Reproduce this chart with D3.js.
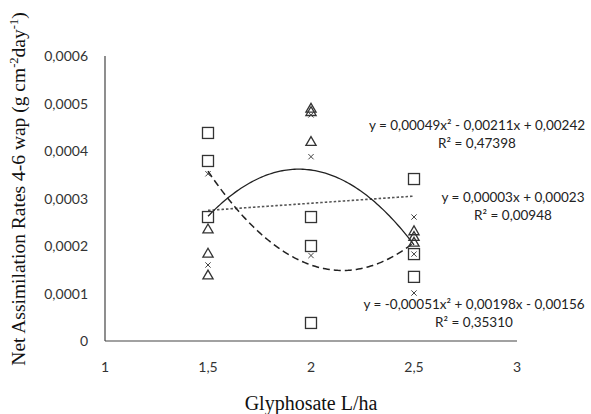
<!DOCTYPE html>
<html lang="en">
<head>
    <meta charset="UTF-8">
    <title>Net Assimilation Rates vs Glyphosate</title>
    <script src="https://d3js.org/d3.v7.min.js"></script>
    <style>
        body { margin: 0; background: white; }
        svg { display: block; }
        .tick-label { font-family: Lato, "Open Sans", sans-serif; font-size: 14px; fill: #333; }
        .eq { font-family: Lato, "Open Sans", sans-serif; font-size: 13.5px; fill: #222; }
        .title { font-family: "Liberation Serif", "DejaVu Serif", serif; fill: #111; }
    </style>
</head>
<body>
<svg id="vis"></svg>
<script>
    const width = 591, height = 414;

    // x positions of the doses (L/ha)
    const doses = [1.5, 2, 2.5];

    // squares series, one list per dose
    const squareValues = [
        [0.000438, 0.000379, 0.000261],
        [0.000261, 0.000200, 0.000038],
        [0.000341, 0.000183, 0.000135]
    ];
    // triangles series
    const triangleValues = [
        [0.000236, 0.000185, 0.000139],
        [0.000490, 0.000483, 0.000420],
        [0.000232, 0.000220, 0.000208]
    ];
    // crosses series
    const crossValues = [
        [0.000352, 0.000160],
        [0.000476, 0.000388, 0.000180],
        [0.000261, 0.000183, 0.000101]
    ];

    // trendline coefficients [a, b, c] for a*x^2 + b*x + c
    const squareFit = [0.00049, -0.00211, 0.00242];
    const crossFit = [-0.00051, 0.00198, -0.00156];
    const triangleFit = [0, 0.00003, 0.00023];

    const squareEq = ["y = 0,00049x\u00B2 - 0,00211x + 0,00242", "R\u00B2 = 0,47398"];
    const triangleEq = ["y = 0,00003x + 0,00023", "R\u00B2 = 0,00948"];
    const crossEq = ["y = -0,00051x\u00B2 + 0,00198x - 0,00156", "R\u00B2 = 0,35310"];

    const xTicks = [1, 1.5, 2, 2.5, 3];
    const yTicks = [0, 0.0001, 0.0002, 0.0003, 0.0004, 0.0005, 0.0006];

    const svg = d3.select("#vis").attr("width", width).attr("height", height);

    const x = d3.scaleLinear().domain([1, 3]).range([105, 517]);
    const y = d3.scaleLinear().domain([0, 0.0006]).range([341, 56]);

    const locale = d3.formatLocale({ decimal: ",", thousands: ".", grouping: [3], currency: ["", ""] });
    const fmtY = v => v === 0 ? "0" : locale.format(".4f")(v);
    const fmtX = v => locale.format("")(v);

    // axes
    svg.append("line")
        .attr("x1", x(1)).attr("x2", x(1))
        .attr("y1", y(0.0006)).attr("y2", y(0))
        .attr("stroke", "#444").attr("stroke-width", 1.2);
    svg.append("line")
        .attr("x1", x(1)).attr("x2", x(3))
        .attr("y1", y(0)).attr("y2", y(0))
        .attr("stroke", "#444").attr("stroke-width", 1.2);

    svg.selectAll(".ytick").data(yTicks).join("text")
        .attr("class", "tick-label")
        .attr("x", 88).attr("y", d => y(d) + 5)
        .attr("text-anchor", "end")
        .text(fmtY);

    svg.selectAll(".xtick").data(xTicks).join("text")
        .attr("class", "tick-label")
        .attr("x", d => x(d)).attr("y", 372)
        .attr("text-anchor", "middle")
        .text(fmtX);

    // axis titles
    svg.append("text")
        .attr("class", "title")
        .attr("x", 311).attr("y", 410)
        .attr("text-anchor", "middle")
        .style("font-size", "20px")
        .text("Glyphosate L/ha");

    const yt = svg.append("text")
        .attr("class", "title")
        .attr("transform", "translate(25,189) rotate(-90)")
        .attr("text-anchor", "middle")
        .style("font-size", "19.5px");
    yt.append("tspan").text("Net Assimilation Rates 4-6 wap (g cm");
    yt.append("tspan").attr("dy", -7).style("font-size", "12.5px").text("-2");
    yt.append("tspan").attr("dy", 7).text("day");
    yt.append("tspan").attr("dy", -7).style("font-size", "12.5px").text("-1");
    yt.append("tspan").attr("dy", 7).text(")");

    // trendlines
    const xs = d3.range(0, 101).map(i => 1.5 + i / 100);
    const curve = f => d3.line()
        .x(d => x(d))
        .y(d => y(f[0] * d * d + f[1] * d + f[2]))(xs);

    svg.append("path").attr("d", curve(triangleFit))
        .attr("fill", "none").attr("stroke", "#555")
        .attr("stroke-width", 1.6).attr("stroke-dasharray", "2.5,2");
    svg.append("path").attr("d", curve(crossFit))
        .attr("fill", "none").attr("stroke", "#222")
        .attr("stroke-width", 1.3);
    svg.append("path").attr("d", curve(squareFit))
        .attr("fill", "none").attr("stroke", "#222")
        .attr("stroke-width", 1.5).attr("stroke-dasharray", "7,4");

    const flat = vals => vals.flatMap((list, i) => list.map(v => ({ x: doses[i], v })));

    // squares
    svg.selectAll(".sq").data(flat(squareValues)).join("rect")
        .attr("x", d => x(d.x) - 5.5).attr("y", d => y(d.v) - 5.5)
        .attr("width", 11).attr("height", 11)
        .attr("fill", "none").attr("stroke", "#333").attr("stroke-width", 1.3);

    // triangles
    const tri = d3.symbol().type(d3.symbolTriangle).size(45);
    svg.selectAll(".tri").data(flat(triangleValues)).join("path")
        .attr("d", tri)
        .attr("transform", d => `translate(${x(d.x)},${y(d.v) + 1})`)
        .attr("fill", "none").attr("stroke", "#333").attr("stroke-width", 1.3);

    // crosses
    const cr = d3.symbol().type(d3.symbolX).size(20);
    svg.selectAll(".cr").data(flat(crossValues)).join("path")
        .attr("d", cr)
        .attr("transform", d => `translate(${x(d.x)},${y(d.v)})`)
        .attr("fill", "none").attr("stroke", "#444").attr("stroke-width", 1);

    // equation labels
    const eqs = [
        { lines: squareEq, cx: 477, cy: 130 },
        { lines: triangleEq, cx: 513, cy: 202 },
        { lines: crossEq, cx: 474, cy: 309 }
    ];
    eqs.forEach(e => {
        svg.append("text").attr("class", "eq")
            .attr("x", e.cx).attr("y", e.cy).attr("text-anchor", "middle")
            .text(e.lines[0]);
        svg.append("text").attr("class", "eq")
            .attr("x", e.cx).attr("y", e.cy + 18).attr("text-anchor", "middle")
            .text(e.lines[1]);
    });
</script>
</body>
</html>
